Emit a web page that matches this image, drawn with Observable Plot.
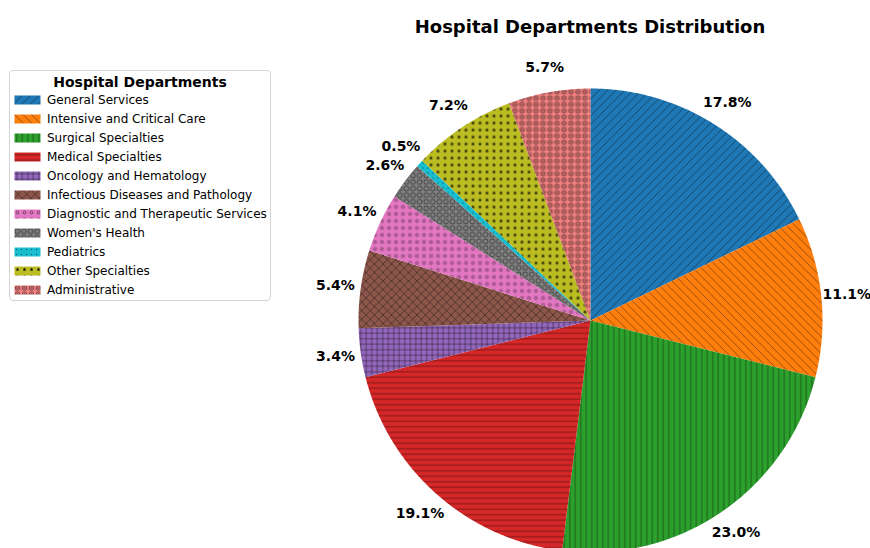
<!DOCTYPE html>
<html><head><meta charset="utf-8">
<script src="https://cdn.jsdelivr.net/npm/d3@7"></script>
<script src="https://cdn.jsdelivr.net/npm/@observablehq/plot@0.6"></script>
<style>
body{margin:0;background:#fff;font-family:"DejaVu Sans",sans-serif;}
#wrap{position:relative;width:870px;height:548px;overflow:hidden;}
#title{position:absolute;left:310px;width:560px;top:16px;text-align:center;font-weight:bold;font-size:18px;line-height:22px;color:#000;}
#legend{position:absolute;left:9px;top:70px;width:260px;height:229px;border:1px solid #d4d4d4;border-radius:4px;background:rgba(255,255,255,0.8);}
#legend .lt{position:absolute;left:0;width:100%;top:3px;text-align:center;font-weight:bold;font-size:14px;line-height:16px;}
#legend .row{position:absolute;left:4px;height:14px;line-height:14px;font-size:12px;white-space:nowrap;}
#legend .row svg{position:absolute;left:0;top:2px;}
#legend .row span{position:absolute;left:33px;top:0;}
</style></head><body><div id="wrap"><div id="title"></div><div id="legend"></div></div>
<script>
const categories = ["General Services","Intensive and Critical Care","Surgical Specialties","Medical Specialties","Oncology and Hematology","Infectious Diseases and Pathology","Diagnostic and Therapeutic Services","Women's Health","Pediatrics","Other Specialties","Administrative"];
const values = [17.8, 11.1, 23.0, 19.1, 3.4, 5.4, 4.1, 2.6, 0.5, 7.2, 5.7];
const colors = ["#1f77b4","#ff7f0e","#2ca02c","#d62728","#9467bd","#8c564b","#e377c2","#7f7f7f","#17becf","#bcbd22","#f08080"];
const hatches = ["//","\\\\","|||","---","+++","xx","o","O",".","*","oO"];
const chartTitle = "Hospital Departments Distribution";
const legendTitle = "Hospital Departments";

const total = d3.sum(values);
// slice polygons (start at 12 o'clock, clockwise)
const slices = [];
const labels = [];
let acc = 0;
values.forEach((v, i) => {
  const a0 = acc / total * 2 * Math.PI;
  const a1 = (acc + v) / total * 2 * Math.PI;
  acc += v;
  slices.push({i, cat: categories[i], x: 0, y: 0});
  const n = Math.max(2, Math.ceil((a1 - a0) / 0.005));
  for (let k = 0; k <= n; k++) {
    const a = a0 + (a1 - a0) * k / n;
    slices.push({i, cat: categories[i], x: Math.sin(a), y: Math.cos(a)});
  }
  const am = (a0 + a1) / 2;
  labels.push({x: 1.11 * Math.sin(am), y: 1.11 * Math.cos(am), text: v.toFixed(1) + "%"});
});

const R = 232, cx = 590, cy = 320;
const svg = Plot.plot({
  width: 870, height: 548,
  marginTop: 0, marginRight: 0, marginBottom: 0, marginLeft: 0,
  x: {domain: [-1, 1], range: [cx - R, cx + R], axis: null},
  y: {domain: [-1, 1], range: [cy + R, cy - R], axis: null},
  color: {type: "identity"},
  marks: [
    Plot.line(slices, {x: "x", y: "y", z: "cat", fill: d => `url(#hp${d.i})`, stroke: "none", curve: "linear"}),
    Plot.text(labels, {x: "x", y: "y", text: "text", fontSize: 14, fontWeight: "bold", fontFamily: "DejaVu Sans", fill: "#000"})
  ]
});
svg.style.position = "absolute";
svg.style.left = "0px";
svg.style.top = "0px";
svg.style.overflow = "hidden";

// hatch patterns
const defs = d3.select(svg).insert("defs", ":first-child");
const hs = "rgba(0,0,0,0.5)";
function pat(i, w, h, draw) {
  const p = defs.append("pattern").attr("id", "hp" + i).attr("patternUnits", "userSpaceOnUse")
    .attr("width", w).attr("height", h);
  p.append("rect").attr("width", w).attr("height", h).attr("fill", colors[i]);
  draw(p, w, h);
}
function line(p, d, sw) { p.append("path").attr("d", d).attr("stroke", hs).attr("stroke-width", sw || 0.8).attr("fill", "none"); }
// 0 //
pat(0, 8.5, 8.5, (p, w) => line(p, `M${-w/2},${w/2}L${w/2},${-w/2}M0,${w}L${w},0M${w/2},${w*1.5}L${w*1.5},${w/2}`));
// 1 \\
pat(1, 8.5, 8.5, (p, w) => line(p, `M${-w/2},${w/2}L${w/2},${w*1.5}M0,0L${w},${w}M${w/2},${-w/2}L${w*1.5},${w/2}`));
// 2 |||
pat(2, 5.5, 5.5, (p, w) => line(p, `M${w/2},0V${w}`));
// 3 ---
pat(3, 5.5, 5.5, (p, w) => line(p, `M0,${w/2}H${w}`));
// 4 +++
pat(4, 5.5, 5.5, (p, w) => line(p, `M${w/2},0V${w}M0,${w/2}H${w}`));
// 5 xx
pat(5, 8.5, 8.5, (p, w) => line(p, `M0,0L${w},${w}M0,${w}L${w},0`));
// 6 o
pat(6, 7, 7, (p, w) => p.append("circle").attr("cx", w/2).attr("cy", w/2).attr("r", 1.4).attr("fill", "none").attr("stroke", hs).attr("stroke-width", 0.9));
// 7 O
pat(7, 6.6, 6.6, (p, w) => p.append("circle").attr("cx", w/2).attr("cy", w/2).attr("r", 2.4).attr("fill", "none").attr("stroke", hs).attr("stroke-width", 0.9));
// 8 .
pat(8, 5, 5, (p, w) => p.append("circle").attr("cx", w/2).attr("cy", w/2).attr("r", 0.7).attr("fill", hs));
// 9 *
pat(9, 7, 7, (p, w) => {
  const pts = d3.range(10).map(k => { const a = k * Math.PI / 5; const r = k % 2 ? 0.9 : 2.1; return [w/2 + r*Math.sin(a), w/2 - r*Math.cos(a)]; });
  p.append("path").attr("d", "M" + pts.map(q => q.join(",")).join("L") + "Z").attr("fill", "rgba(0,0,0,0.85)");
});
// 10 oO
pat(10, 7, 6.3, (p, w, h) => {
  p.append("circle").attr("cx", w/2).attr("cy", h/2).attr("r", 2.3).attr("fill", "none").attr("stroke", hs).attr("stroke-width", 0.9);
  p.append("circle").attr("cx", w/2).attr("cy", h/2).attr("r", 0.8).attr("fill", "none").attr("stroke", hs).attr("stroke-width", 0.8);
});

const wrap = document.getElementById("wrap");
wrap.insertBefore(svg, wrap.firstChild);
document.getElementById("title").textContent = chartTitle;

const leg = d3.select("#legend");
leg.append("div").attr("class", "lt").text(legendTitle);
categories.forEach((c, i) => {
  const row = leg.append("div").attr("class", "row").style("top", (100 + 19 * i - 70 - 1 - 7) + "px");
  const s = row.append("svg").attr("width", 27).attr("height", 10);
  s.append("rect").attr("x", 0.5).attr("y", 0.5).attr("width", 26).attr("height", 9).attr("fill", `url(#hp${i})`);
  row.append("span").text(c);
});
</script></body></html>
